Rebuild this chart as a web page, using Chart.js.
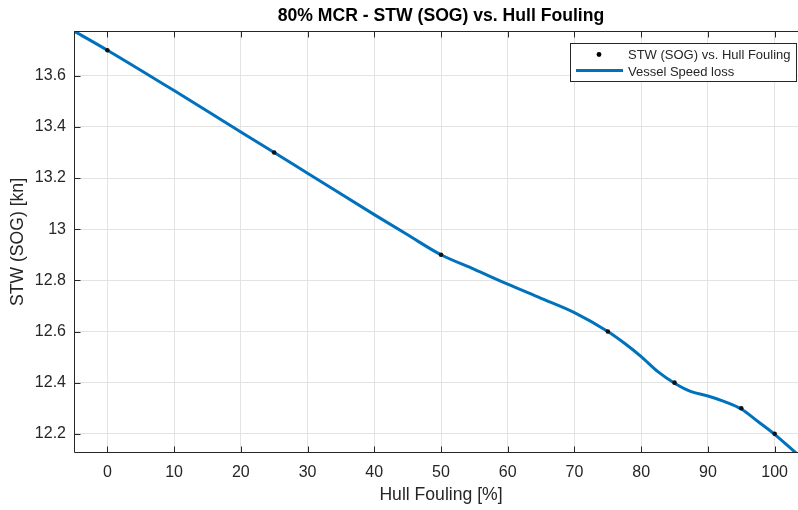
<!DOCTYPE html>
<html><head><meta charset="utf-8">
<script src="https://cdn.jsdelivr.net/npm/chart.js@4/dist/chart.umd.min.js"></script>
<style>
html,body{margin:0;padding:0;background:#fff;overflow:hidden;width:798px;height:510px}
#wrap{width:812px;height:510px;position:relative}
</style></head>
<body><div id="wrap"><canvas id="c" width="812" height="510"></canvas></div>
<script>
const titleText = '80% MCR - STW (SOG) vs. Hull Fouling';
const xAxisLabel = 'Hull Fouling [%]';
const yAxisLabel = 'STW (SOG) [kn]';
const dataLabel = 'STW (SOG) vs. Hull Fouling';
const fitLabel = 'Vessel Speed loss';

const hullFouling = [0, 25, 50, 75, 85, 95, 100];
const stwSog = [13.7, 13.3, 12.9, 12.6, 12.4, 12.3, 12.2];

const fitX = [-5, 0, 10, 20, 25, 30, 40, 45, 50, 55, 60, 65, 70, 75, 77.5, 80, 82.5, 85, 87.5, 90, 92.5, 95, 97.5, 100, 103.2];
const fitY = [13.775, 13.7, 13.542, 13.38, 13.3, 13.219, 13.057, 12.978, 12.9, 12.843, 12.785, 12.730, 12.674, 12.6, 12.554, 12.502, 12.443, 12.398, 12.365, 12.348, 12.326, 12.297, 12.248, 12.198, 12.125];

const xTicks = [0, 10, 20, 30, 40, 50, 60, 70, 80, 90, 100];
const yTicks = [12.2, 12.4, 12.6, 12.8, 13, 13.2, 13.4, 13.6];
const xRange = [-5, 105];
const yRange = [12.125, 13.775];

const FONT = '"Liberation Sans", Arial, Helvetica, sans-serif';
const AXIS = '#262626';
const BLUE = '#0072BD';

const matlabDecor = {
  id: 'matlabDecor',
  afterDraw(chart) {
    const {ctx, chartArea: a, scales: {x, y}} = chart;
    ctx.save();
    ctx.strokeStyle = AXIS; ctx.lineWidth = 1;
    const L = Math.round(a.left) + 0.5, R = Math.round(a.right) - 0.5;
    const T = Math.round(a.top) + 0.5, B = Math.round(a.bottom) - 0.5;
    ctx.beginPath();
    ctx.rect(L, T, R - L, B - T);
    ctx.stroke();
    const tl = 6;
    ctx.beginPath();
    xTicks.forEach(v => {
      const px = Math.round(x.getPixelForValue(v)) + 0.5;
      ctx.moveTo(px, B); ctx.lineTo(px, B - tl);
      ctx.moveTo(px, T); ctx.lineTo(px, T + tl);
    });
    yTicks.forEach(v => {
      const py = Math.round(y.getPixelForValue(v)) + 0.5;
      ctx.moveTo(L, py); ctx.lineTo(L + tl, py);
      ctx.moveTo(R, py); ctx.lineTo(R - tl, py);
    });
    ctx.stroke();

    // title
    ctx.fillStyle = '#000';
    ctx.font = 'bold 17.6px ' + FONT;
    ctx.textAlign = 'center'; ctx.textBaseline = 'middle';
    ctx.fillText(titleText, (a.left + a.right) / 2, 16.5);

    // legend
    const bx = 570.5, by = 43.5, bw = 226, bh = 38;
    ctx.fillStyle = '#fff';
    ctx.fillRect(bx, by, bw, bh);
    ctx.strokeStyle = AXIS; ctx.lineWidth = 1;
    ctx.strokeRect(bx, by, bw, bh);
    ctx.fillStyle = '#000';
    ctx.beginPath(); ctx.arc(599, 54.5, 2.4, 0, Math.PI * 2); ctx.fill();
    ctx.strokeStyle = BLUE; ctx.lineWidth = 3;
    ctx.beginPath(); ctx.moveTo(576, 70.5); ctx.lineTo(623, 70.5); ctx.stroke();
    ctx.fillStyle = AXIS;
    ctx.font = '13px ' + FONT;
    ctx.textAlign = 'left'; ctx.textBaseline = 'middle';
    ctx.fillText(dataLabel, 628, 55.5);
    ctx.fillText(fitLabel, 628, 72.5);
    ctx.restore();
  }
};

new Chart(document.getElementById('c'), {
  type: 'line',
  data: {
    datasets: [
      {
        type: 'scatter', label: dataLabel,
        data: hullFouling.map((v, i) => ({x: v, y: stwSog[i]})),
        pointRadius: 2.3, pointBackgroundColor: '#111', pointBorderColor: '#111', pointBorderWidth: 0,
        showLine: false
      },
      {
        label: fitLabel,
        data: fitX.map((v, i) => ({x: v, y: fitY[i]})),
        borderColor: BLUE, borderWidth: 3, pointRadius: 0,
        cubicInterpolationMode: 'monotone', fill: false
      }
    ]
  },
  options: {
    responsive: false, animation: false, devicePixelRatio: 1,
    layout: {padding: {top: 31, right: 3, left: 0, bottom: 0}},
    plugins: {legend: {display: false}, title: {display: false}, tooltip: {enabled: false}},
    scales: {
      x: {
        type: 'linear', min: xRange[0], max: xRange[1],
        afterBuildTicks: s => { s.ticks = xTicks.map(v => ({value: v})); },
        afterFit: s => { s.height = 57; },
        grid: {color: '#e3e3e3', drawTicks: false},
        border: {display: false},
        ticks: {padding: 10, color: AXIS, font: {family: FONT, size: 16}, callback: v => String(Math.round(v * 10) / 10), maxRotation: 0, autoSkip: false},
        title: {display: true, text: xAxisLabel, color: AXIS, font: {family: FONT, size: 17.6}, padding: {top: 0, bottom: 4.4}}
      },
      y: {
        type: 'linear', min: yRange[0], max: yRange[1],
        afterBuildTicks: s => { s.ticks = yTicks.map(v => ({value: v})); },
        afterFit: s => { s.width = 74; },
        grid: {color: '#e3e3e3', drawTicks: false},
        border: {display: false},
        ticks: {padding: 8, color: AXIS, font: {family: FONT, size: 16}, callback: v => String(Math.round(v * 10) / 10), autoSkip: false},
        title: {display: true, text: yAxisLabel, color: AXIS, font: {family: FONT, size: 17.6}, padding: {top: 7.9, bottom: 0}}
      }
    }
  },
  plugins: [matlabDecor]
});
</script>
</body></html>
